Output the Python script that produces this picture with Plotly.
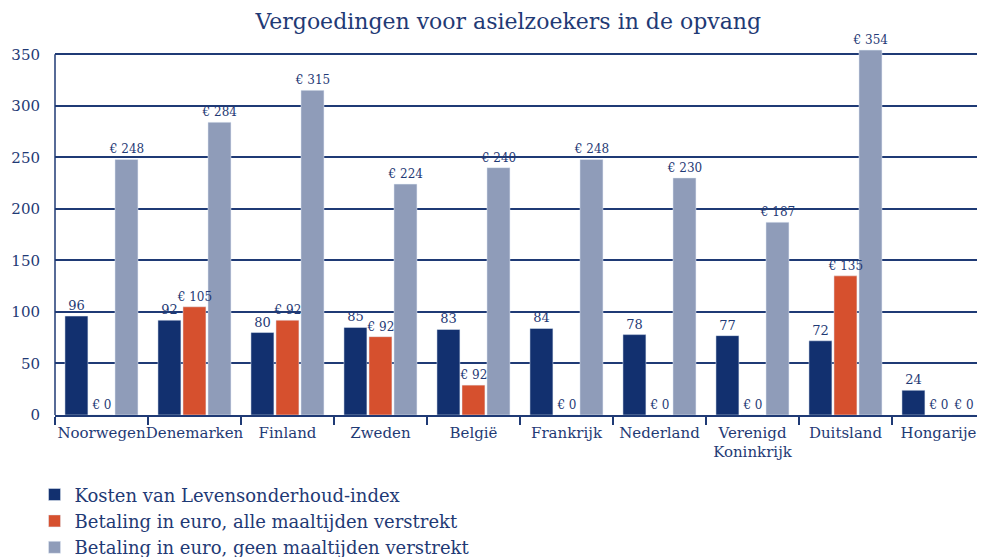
import plotly.graph_objects as go

countries = ["Noorwegen", "Denemarken", "Finland", "Zweden", "België", "Frankrijk",
             "Nederland", "Verenigd<br>Koninkrijk", "Duitsland", "Hongarije"]
kosten_index = [96, 92, 80, 85, 83, 84, 78, 77, 72, 24]
alle_maaltijden = [0, 105, 92, 76, 29, 0, 0, 0, 135, 0]
alle_maaltijden_labels = ["€ 0", "€ 105", "€ 92", "€ 92", "€ 92", "€ 0", "€ 0", "€ 0", "€ 135", "€ 0"]
geen_maaltijden = [248, 284, 315, 224, 240, 248, 230, 187, 354, 0]
geen_maaltijden_labels = ["€ 248", "€ 284", "€ 315", "€ 224", "€ 240", "€ 248", "€ 230", "€ 187", "€ 354", "€ 0"]
y_ticks = [0, 50, 100, 150, 200, 250, 300, 350]

NAVY = "#12306f"
ORANGE = "#d6502e"
GREY = "#8f9cb9"
TXT = "#1f3a75"
FONT = "DejaVu Serif"
LBL = dict(size=12, color=TXT, family=FONT)
BAR_W = 0.247

fig = go.Figure()
# grey drawn first so labels of the other series sit on top of it
fig.add_trace(go.Bar(name="Betaling in euro, geen maaltijden verstrekt", x=countries, y=geen_maaltijden,
                     marker_color=GREY, text=geen_maaltijden_labels, width=BAR_W, offset=0.145,
                     textposition="outside", constraintext="none", cliponaxis=False,
                     textfont=LBL, legendrank=3))
fig.add_trace(go.Bar(name="Betaling in euro, alle maaltijden verstrekt", x=countries, y=alle_maaltijden,
                     marker_color=ORANGE, text=alle_maaltijden_labels, width=BAR_W, offset=-0.124,
                     textposition="outside", constraintext="none", cliponaxis=False,
                     textfont=LBL, legendrank=2))
fig.add_trace(go.Bar(name="Kosten van Levensonderhoud-index", x=countries, y=kosten_index,
                     marker_color=NAVY, text=[str(v) for v in kosten_index], width=BAR_W, offset=-0.393,
                     textposition="outside", constraintext="none", cliponaxis=False,
                     textfont=dict(size=13, color=TXT, family=FONT), legendrank=1))

# left axis line ending at the 350 gridline
fig.add_shape(type="line", xref="paper", x0=0, x1=0, yref="y", y0=0, y1=350,
              line=dict(color=TXT, width=1.5))

fig.update_layout(
    width=977, height=549,
    margin=dict(l=47, r=0, t=38, b=142, autoexpand=False),
    paper_bgcolor="white", plot_bgcolor="white",
    barmode="overlay",
    font=dict(family=FONT, color=TXT, size=15),
    title=dict(text="Vergoedingen voor asielzoekers in de opvang", x=0.512, xanchor="center",
               y=0.975, yanchor="middle", font=dict(size=22, color=TXT, family=FONT)),
    showlegend=True,
    legend=dict(x=-0.022, xanchor="left", yref="container", y=0.147, yanchor="top", orientation="v",
                font=dict(size=18, color=TXT, family=FONT), bgcolor="rgba(0,0,0,0)",
                tracegroupgap=0, itemwidth=30, traceorder="normal"),
)
fig.update_xaxes(showline=True, linecolor=TXT, linewidth=1.5, ticks="outside", tickson="boundaries",
                 ticklen=8, tickcolor=TXT, tickwidth=1.5, showgrid=False, tickangle=0, automargin=False,
                 ticklabelstandoff=3, tickfont=dict(size=15, color=TXT, family=FONT))
fig.update_yaxes(range=[0, 358], tickvals=y_ticks, showline=False, automargin=False,
                 showgrid=True, gridcolor=TXT, gridwidth=1.5, zeroline=False, ticks="",
                 ticklabelstandoff=14, tickfont=dict(size=15, color=TXT, family=FONT))

fig.write_html("out.html")
